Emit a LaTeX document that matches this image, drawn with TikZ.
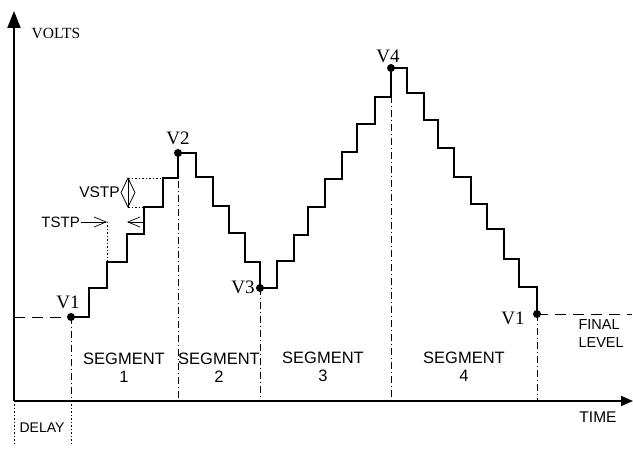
\documentclass[tikz,border=0pt]{standalone}
\usepackage{fontspec}
\setmainfont{Liberation Serif}
\setsansfont{Liberation Sans}
\usetikzlibrary{arrows.meta}
\begin{document}
\begin{tikzpicture}[x=1pt,y=-1pt,
  axis/.style={line width=1.8pt,-{Triangle[length=17pt,width=13pt]}},
  stair/.style={line width=2.8pt,line join=miter},
  segline/.style={line width=0.8pt,dash pattern=on 7pt off 3pt on 1pt off 3pt},
  lvl/.style={line width=0.9pt,dash pattern=on 11pt off 7pt},
  dotl/.style={line width=0.7pt,dash pattern=on 1.5pt off 2pt},
  tarrow/.style={line width=0.7pt,-{Straight Barb[length=12pt,width=10pt]}},
  vlab/.style={font=\fontsize{19}{20}\selectfont},
  slab/.style={font=\sffamily\fontsize{16.5}{18}\selectfont,align=center},
  vdot/.style={fill,circle,inner sep=0pt,minimum size=8pt}]
\useasboundingbox (0,0) rectangle (633,449);
% axes
\coordinate (O) at (14,401);
\coordinate (ytip) at (14,11);
\coordinate (xtip) at (633,401);
\draw[axis] (O) -- (ytip);
\draw[line width=1.8pt,-{Triangle[length=12pt,width=10pt]}] (O) -- (xtip);
\node[font=\fontsize{15.5}{16}\selectfont] (volts) at (56,33) {VOLTS};
\node[font=\sffamily\fontsize{15.5}{16}\selectfont] (time) at (598,417) {TIME};
% key points
\coordinate (v1) at (71,317);
\coordinate (v2) at (178,153);
\coordinate (v3) at (260,288);
\coordinate (v4) at (391,68);
\coordinate (v1b) at (537,314);
\coordinate (a1) at (71,401);
\coordinate (a2) at (178,401);
\coordinate (a3) at (260,401);
\coordinate (a4) at (391,401);
\coordinate (a5) at (537,401);
\coordinate (d0) at (14,445);
\coordinate (d1) at (71,445);
\coordinate (lv0) at (14,317);
\coordinate (lvend) at (632,314);
% level lines
\draw[lvl] (lv0) -- (v1);
\draw[lvl] (v1b) -- (lvend);
% segment lines
\draw[segline] (v1) -- (a1);
\draw[segline] (v2) -- (a2);
\draw[segline] (v3) -- (a3);
\draw[segline] (v4) -- (a4);
\draw[segline] (v1b) -- (a5);
\draw[dotl] (O) -- (d0);
\draw[dotl] (a1) -- (d1);
% staircase
\draw[stair] (v1) -| (89,288) -| (107,262) -| (127,234) -| (144,207) -| (163,178) -| (v2)
  -| (196,177) -| (213,206) -| (229,233) -| (245,262) -| (v3)
  -| (277,261) -| (294,235) -| (308,207) -| (325,179) -| (342,152) -| (357,124) -| (375,97) -| (v4)
  -| (407,93) -| (424,120) -| (438,148) -| (454,177) -| (471,204) -| (487,229) -| (504,259) -| (519,287) -| (v1b);
% dots
\node[vdot] (p1) at (v1) {};
\node[vdot] (p2) at (v2) {};
\node[vdot] (p3) at (v3) {};
\node[vdot] (p4) at (v4) {};
\node[vdot] (p5) at (v1b) {};
% V labels
\node[vlab] (l1) at (68,302) {V1};
\node[vlab] (l2) at (178,138) {V2};
\node[vlab] (l3) at (243,287) {V3};
\node[vlab] (l4) at (388,56) {V4};
\node[vlab] (l5) at (513,318) {V1};
% segment labels
\node[slab] (s1) at (124,368) {SEGMENT\\1};
\node[slab] (s2) at (219,368) {SEGMENT\\2};
\node[slab] (s3) at (323,367) {SEGMENT\\3};
\node[slab] (s4) at (464,367) {SEGMENT\\4};
\node[font=\sffamily\fontsize{14.5}{18}\selectfont,align=left,anchor=west] (fl) at (575,334) {FINAL\\LEVEL};
\node[font=\sffamily\fontsize{14}{16}\selectfont] (delay) at (42,428) {DELAY};
% VSTP
\coordinate (vt) at (128,178);
\coordinate (vb) at (128,207);
\coordinate (vtc) at (163,178);
\coordinate (vbc) at (144,207);
\draw[dotl] (vt) -- (vtc);
\draw[dotl] (vb) -- (vbc);
\draw[line width=0.8pt] (vt) -- (135,192.5) -- (vb) -- (121,192.5) -- cycle;
\draw[line width=0.8pt] (vt) -- (vb);
\node[font=\sffamily\fontsize{15.5}{16}\selectfont,anchor=east,inner sep=1pt] (vstp) at (121,192) {VSTP};
% TSTP
\node[font=\sffamily\fontsize{15}{16}\selectfont,anchor=east,inner sep=1pt] (tstp) at (81,222) {TSTP};
\coordinate (tl) at (107,222);
\coordinate (tlb) at (107,262);
\coordinate (tr) at (127,222);
\coordinate (trs) at (144,222);
\draw[tarrow] (tstp.east) -- (tl);
\draw[dotl] (tl) -- (tlb);
\draw[tarrow] (trs) -- (tr);
\end{tikzpicture}
\end{document}
